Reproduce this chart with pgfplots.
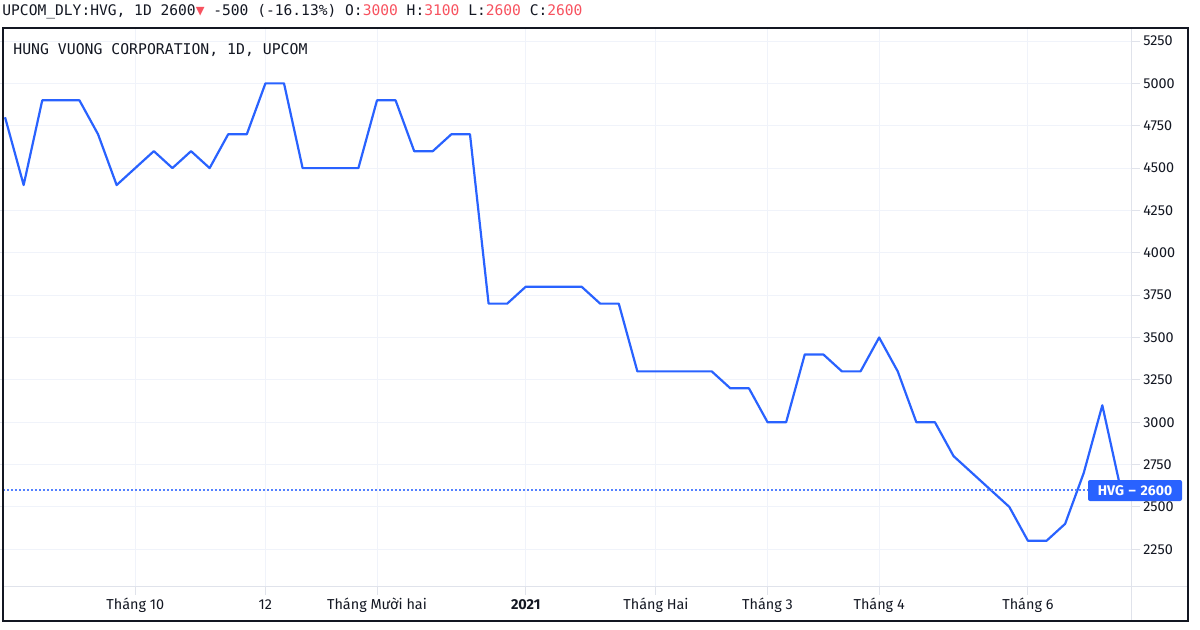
\documentclass[border=0pt]{standalone}
\usepackage{fontspec}
\setmainfont{Fira Sans}
\newfontfamily\monofont{DejaVu Sans Mono}
\usepackage{pgfplots}
\pgfplotsset{compat=1.18}
\definecolor{tvblue}{HTML}{2962FF}
\definecolor{tvgrid}{HTML}{F0F3FA}
\definecolor{tvsep}{HTML}{E0E3EB}
\definecolor{tvtext}{HTML}{131722}
\definecolor{tvred}{HTML}{F7525F}
\pgfplotstableread{
idx price
0 4800
1 4400
2 4900
3 4900
4 4900
5 4700
6 4400
7 4500
8 4600
9 4500
10 4600
11 4500
12 4700
13 4700
14 5000
15 5000
16 4500
17 4500
18 4500
19 4500
20 4900
21 4900
22 4600
23 4600
24 4700
25 4700
26 3700
27 3700
28 3800
29 3800
30 3800
31 3800
32 3700
33 3700
34 3300
35 3300
36 3300
37 3300
38 3300
39 3200
40 3200
41 3000
42 3000
43 3400
44 3400
45 3300
46 3300
47 3500
48 3300
49 3000
50 3000
51 2800
52 2700
53 2600
54 2500
55 2300
56 2300
57 2400
58 2700
59 3100
60 2600
}\hvg
\begin{document}
\begin{tikzpicture}
\useasboundingbox (0,0) rectangle (600pt,314.5pt);
\begin{axis}[
  at={(1.5pt,21.15pt)}, anchor=south west,
  scale only axis, width=564.35pt, height=279.35pt,
  xmin=-0.11, xmax=60.58, ymin=2029, ymax=5327,
  axis line style={draw=none},
  grid=major, major grid style={color=tvgrid, line width=0.5pt},
  xtick={7,14,20,28,35,41,47,55},
  xticklabels={Tháng 10,12,Tháng Mười hai,\textbf{2021},Tháng Hai,Tháng 3,Tháng 4,Tháng 6},
  ytick={2250,2500,...,5250},
  yticklabel pos=right,
  xtick pos=bottom,
  tick align=outside, major tick length=4pt,
  tick style={color=tvsep, line width=0.5pt},
  every tick label/.append style={font=\fontsize{7.2}{8.6}\selectfont, text=tvtext, inner sep=0pt},
  yticklabel style={anchor=west, xshift=1.6pt},
  xticklabel style={anchor=center, yshift=-5.2pt},
  /pgf/number format/assume math mode=true,
  /pgf/number format/1000 sep={},
]
\addplot[tvblue, line width=1.1pt, line join=round, mark=none] table[x=idx, y=price] {\hvg};
\draw[tvblue!80, line width=0.6pt, dash pattern=on 1pt off 1pt] (axis cs:-0.11,2600) -- (axis cs:60.58,2600);
\end{axis}
\draw[tvsep, line width=0.5pt] (1.5pt,21.15pt) -- (594pt,21.15pt);
\draw[tvsep, line width=0.5pt] (565.85pt,4pt) -- (565.85pt,300.5pt);
\draw[tvtext, line width=0.8pt] (1.5pt,4pt) rectangle (594pt,300.5pt);
\fill[tvblue, rounded corners=1pt] (544pt,64pt) rectangle (591pt,74.5pt);
\node[anchor=center, text=white, inner sep=0pt, font=\fontsize{7}{8}\selectfont\bfseries] at (567.5pt,69.25pt) {HVG\,\,–\,\,2600};
\node[anchor=west, inner sep=0pt, text=tvtext, font=\monofont\fontsize{7.3}{9}\selectfont] at (1pt,308.5pt)
  {UPCOM\_DLY:HVG, 1D 2600\textcolor{tvred}{▼} -500 (-16.13\%) O:\textcolor{tvred}{3000} H:\textcolor{tvred}{3100} L:\textcolor{tvred}{2600} C:\textcolor{tvred}{2600}};
\node[anchor=west, inner sep=0pt, text=tvtext, font=\monofont\fontsize{7.4}{9}\selectfont] at (6.5pt,289.5pt)
  {HUNG VUONG CORPORATION, 1D, UPCOM};
\end{tikzpicture}
\end{document}
